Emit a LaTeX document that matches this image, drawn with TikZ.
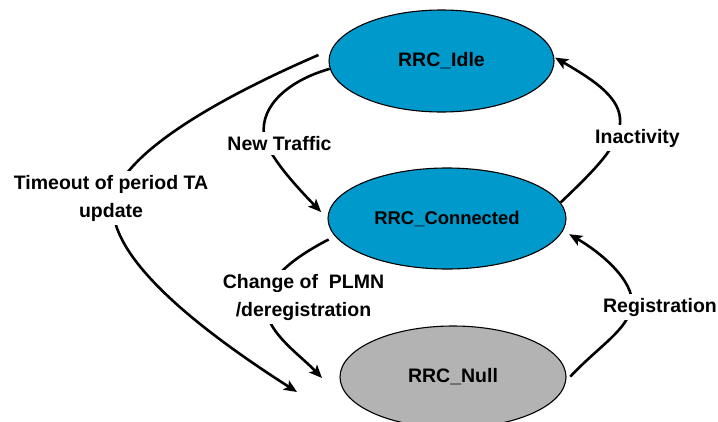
\documentclass[tikz,border=0pt]{standalone}
\usepackage{fontspec}
\setmainfont{Liberation Sans}
\usetikzlibrary{arrows.meta,shapes.geometric}
\definecolor{stateblue}{RGB}{0,153,204}
\definecolor{stategray}{RGB}{179,179,179}
\tikzset{
  state/.style={ellipse,draw=black,line width=1.1pt,inner sep=0pt,
    font=\fontsize{19.5}{23}\selectfont\bfseries},
  conn/.style={line width=2.6pt,-{Stealth[length=13pt,width=11pt,inset=3pt]}},
  lbl/.style={fill=white,inner sep=4pt,align=center,
    font=\fontsize{19.5}{28}\selectfont\bfseries}
}
\begin{document}
\begin{tikzpicture}[x=1pt,y=-1pt]
\useasboundingbox (0,0) rectangle (718,421);
\clip (0,0) rectangle (718,421);
\node[state,fill=stateblue,minimum width=225pt,minimum height=102pt] (idle) at (441.5,61) {RRC\_Idle};
\node[state,fill=stateblue,minimum width=238pt,minimum height=101pt,font=\fontsize{18.4}{22}\selectfont\bfseries] (conn) at (447,218.5) {RRC\_Connected};
\node[state,fill=stategray,minimum width=226pt,minimum height=102pt] (null) at (453,377) {RRC\_Null};
\coordinate (toEnd) at (297,392);
\coordinate (plmnEnd) at (322,378);
% Timeout
\draw[conn,shorten <=14pt] (idle.174) .. controls (205,104) and (115,160) .. (113,205)
   .. controls (111,260) and (200,330) .. (toEnd);
% New Traffic
\draw[conn,shorten >=9pt] (idle.184) .. controls (290,80) and (260,105) .. (264,135)
   .. controls (266,150) and (285,175) .. (conn.180);
% Inactivity
\draw[conn,shorten >=1pt] (conn.8) .. controls (600,165) and (622,142) .. (620,118)
   .. controls (618,95) and (590,78) .. (idle.2);
% Change of PLMN
\draw[conn,shorten <=7pt] (conn.189) .. controls (285,262) and (262,285) .. (266,310)
   .. controls (270,335) and (300,355) .. (plmnEnd);
% Registration
\draw[conn,shorten <=6pt,shorten >=7pt] (null.358) .. controls (600,345) and (628,330) .. (632,305)
   .. controls (634,280) and (600,252) .. (conn.354);
% labels
\node[lbl] (lt) at (111,198) {Timeout of period TA\\update};
\node[lbl] (ln) at (279.5,143.5) {New Traffic};
\node[lbl] (li) at (637.5,138) {Inactivity};
\node[lbl] (lp) at (303.5,297) {Change of\ \ PLMN\\/deregistration};
\node[lbl] (lr) at (660,307) {Registration};
\end{tikzpicture}
\end{document}
